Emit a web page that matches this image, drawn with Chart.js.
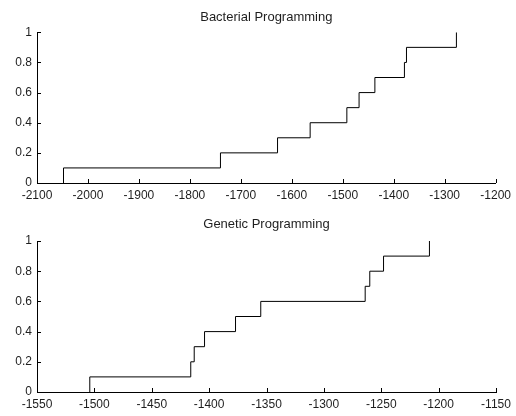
<!DOCTYPE html>
<html><head><meta charset="utf-8">
<script src="https://cdn.jsdelivr.net/npm/chart.js@4"></script>
<style>
html,body{margin:0;padding:0;background:#fff;}
#wrap{position:relative;width:516px;height:416px;overflow:hidden;}
canvas{position:absolute;left:0;}
</style></head><body>
<div id="wrap">
<canvas id="c1" width="516" height="208" style="top:0"></canvas>
<canvas id="c2" width="516" height="208" style="top:208px"></canvas>
</div>
<script>
// Empirical CDF levels (fraction of runs)
const cdfLevels = [0.1, 0.2, 0.3, 0.4, 0.5, 0.6, 0.7, 0.8, 0.9, 1.0];
// Sorted final values for each method
const bacterialValues = [-2048, -1740, -1628, -1564, -1492, -1468, -1437, -1379, -1375, -1277];
const geneticValues   = [-1504, -1416, -1413, -1404, -1377, -1355, -1264, -1260, -1248, -1208];
// Tick labels
const bacterialXTicks = [-2100, -2000, -1900, -1800, -1700, -1600, -1500, -1400, -1300, -1200];
const geneticXTicks   = [-1550, -1500, -1450, -1400, -1350, -1300, -1250, -1200, -1150];
const yTicks = [0, 0.2, 0.4, 0.6, 0.8, 1];
const titles = ['Bacterial Programming', 'Genetic Programming'];

const FAMILY = '"Liberation Sans", Arial, Helvetica, sans-serif';
const TICKFONT = {family: FAMILY, size: 12};
const TITLEFONT = {family: FAMILY, size: 13, weight: 'normal'};
const TEXT = '#1e1e1e';

const inwardTicks = {
  id: 'inwardTicks',
  afterDraw(chart) {
    const ctx = chart.ctx, a = chart.chartArea;
    const xs = chart.scales.x, ys = chart.scales.y;
    ctx.save();
    ctx.strokeStyle = '#000';
    ctx.lineWidth = 1;
    ctx.beginPath();
    xs.ticks.forEach(t => {
      const px = Math.round(xs.getPixelForValue(t.value)) + 0.5;
      ctx.moveTo(px, a.bottom);
      ctx.lineTo(px, a.bottom - 4);
    });
    ys.ticks.forEach(t => {
      const py = Math.round(ys.getPixelForValue(t.value)) + 0.5;
      ctx.moveTo(a.left, py);
      ctx.lineTo(a.left + 4, py);
    });
    ctx.stroke();
    ctx.restore();
  }
};

function makeChart(id, values, xTicks, title, titlePad, xHeight) {
  const pts = [{x: values[0], y: 0}].concat(values.map((v, i) => ({x: v, y: cdfLevels[i]})));
  return new Chart(document.getElementById(id), {
    type: 'scatter',
    data: {datasets: [{
      data: pts,
      showLine: true,
      stepped: 'before',
      borderColor: '#000',
      borderWidth: 1,
      pointRadius: 0,
      fill: false
    }]},
    options: {
      responsive: false,
      animation: false,
      devicePixelRatio: 1,
      layout: {padding: {left: 0, right: 20, top: 0, bottom: 0}},
      plugins: {
        legend: {display: false},
        tooltip: {enabled: false},
        title: {display: true, text: title, color: TEXT, font: TITLEFONT, fullSize: false, padding: titlePad}
      },
      scales: {
        x: {
          type: 'linear',
          min: xTicks[0], max: xTicks[xTicks.length - 1],
          afterBuildTicks: s => { s.ticks = xTicks.map(v => ({value: v})); },
          afterFit: s => { s.height = xHeight; },
          grid: {display: false, drawTicks: false},
          border: {display: true, color: '#000', width: 1},
          ticks: {color: TEXT, font: TICKFONT, padding: 5, maxRotation: 0, autoSkip: false,
                  callback: v => String(v)}
        },
        y: {
          type: 'linear',
          min: 0, max: 1,
          afterBuildTicks: s => { s.ticks = yTicks.map(v => ({value: v})); },
          afterFit: s => { s.width = 37; },
          grid: {display: false, drawTicks: false},
          border: {display: true, color: '#000', width: 1},
          ticks: {color: TEXT, font: TICKFONT, padding: 5,
                  callback: v => String(Math.round(v * 10) / 10)}
        }
      }
    },
    plugins: [inwardTicks]
  });
}

makeChart('c1', bacterialValues, bacterialXTicks, titles[0], {top: 9.7, bottom: 7}, 25);
makeChart('c2', geneticValues, geneticXTicks, titles[1], {top: 8.7, bottom: 8.7}, 24);
</script>
</body></html>
